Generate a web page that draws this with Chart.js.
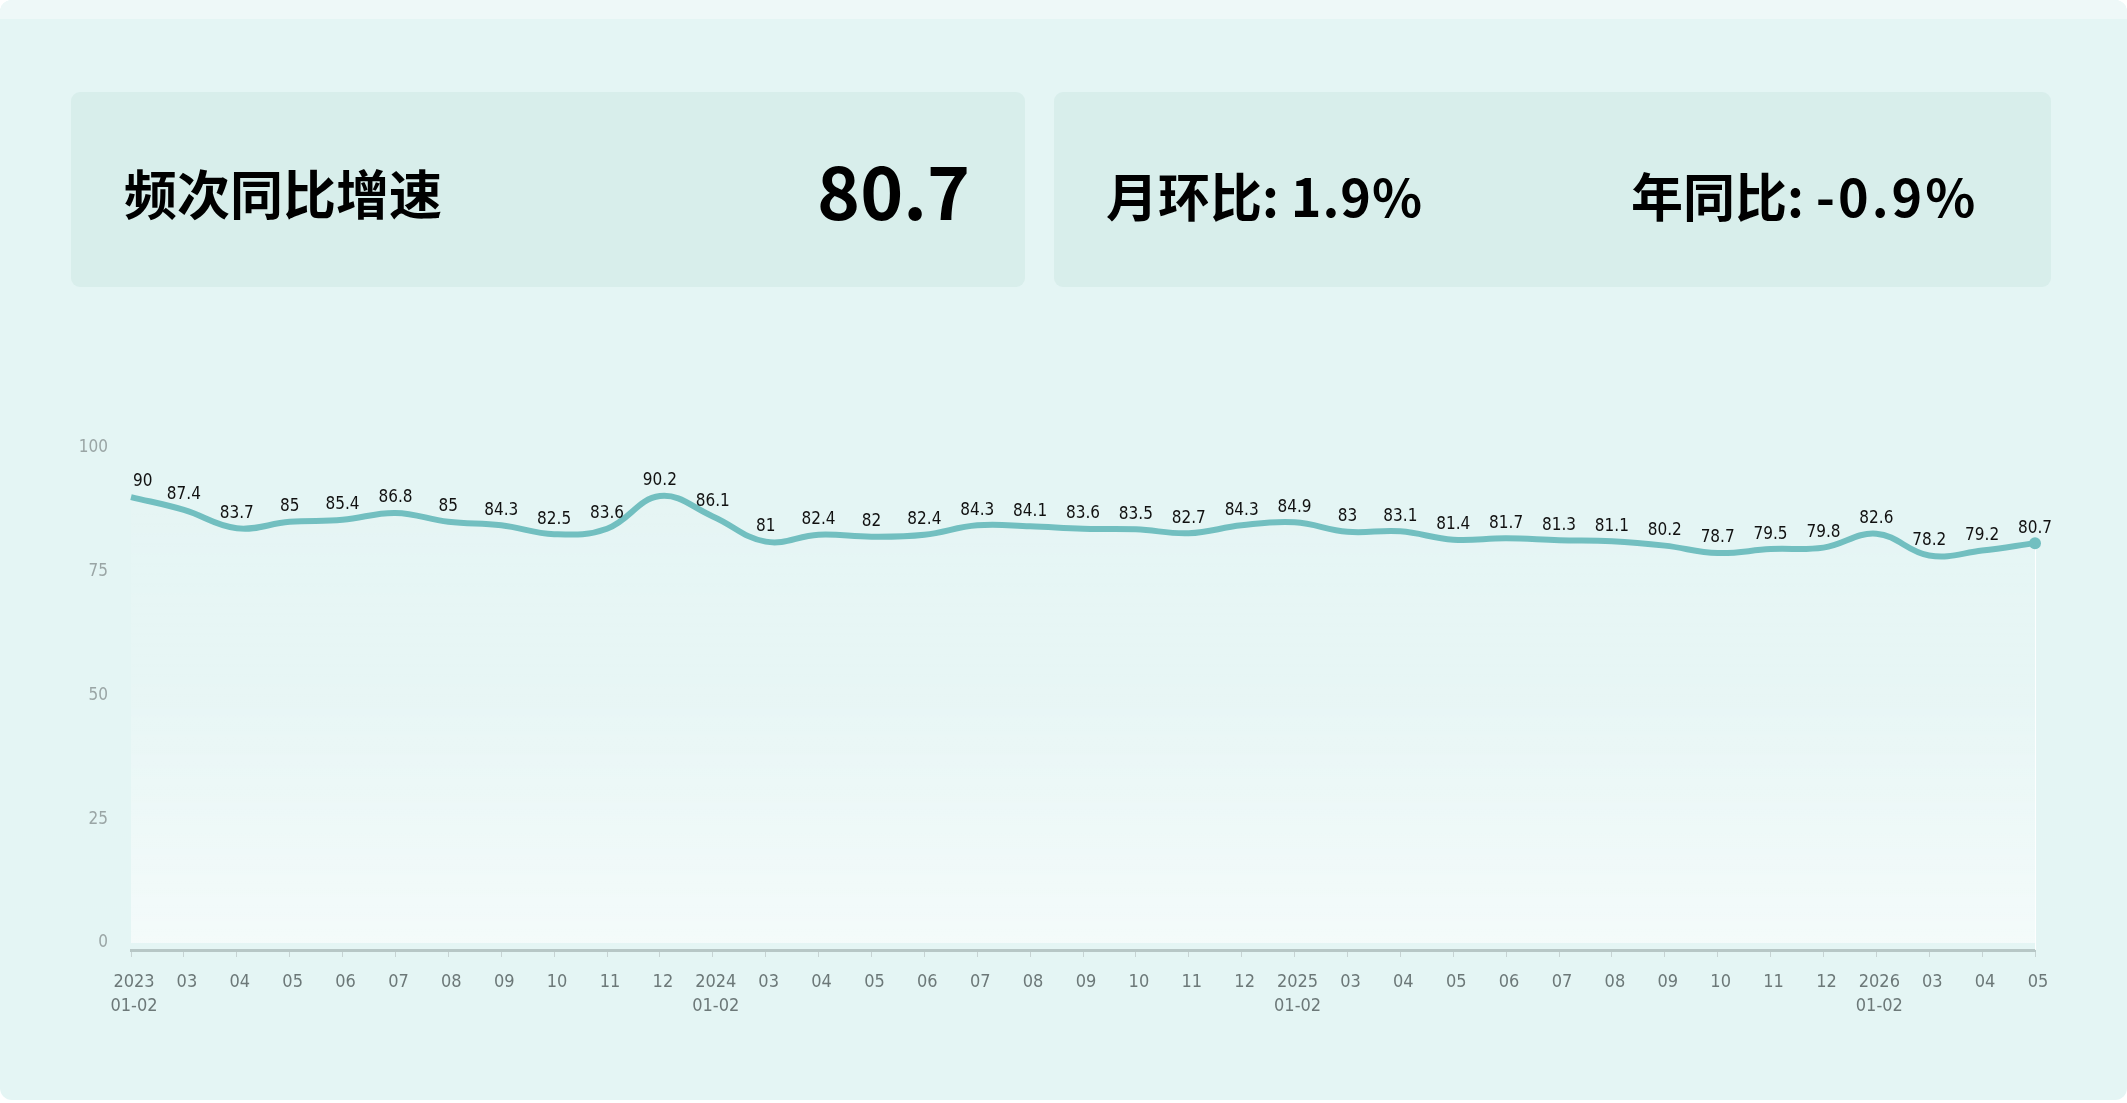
<!DOCTYPE html>
<html>
<head>
<meta charset="utf-8">
<script src="https://cdn.jsdelivr.net/npm/chart.js@4.4.1/dist/chart.umd.min.js"></script>
<style>
  html, body { margin: 0; padding: 0; background: #ffffff; }
  body { width: 2127px; height: 1103px; position: relative; overflow: hidden; }
  #card { position: absolute; left: 0; top: 0; width: 2127px; height: 1100px; background: #e4f5f4; border-radius: 12px; overflow: hidden; }
  #strip { position: absolute; left: 0; top: 0; width: 100%; height: 19px; background: #eef8f8; }
  .box { position: absolute; top: 92px; height: 195px; background: #d8eeeb; border-radius: 9px; }
  .txt { position: absolute; font-family: "Noto Sans CJK SC", "Noto Sans", sans-serif; font-weight: 700; color: #000; white-space: nowrap; line-height: 1; }
  #chartWrap { position: absolute; left: 0; top: 0; width: 2127px; height: 1103px; }
</style>
</head>
<body>
<div id="card">
  <div id="strip"></div>
  <div class="box" style="left:71px; width:954px;"></div>
  <div class="box" style="left:1054px; width:997px;"></div>
  <div class="txt" id="title" style="left:124px; top:166px; font-size:53px;">频次同比增速</div>
  <div class="txt" id="bigval" style="right:1157px; top:152px; font-size:73px;">80.7</div>
  <div class="txt" id="mom" style="left:1106px; top:169px; font-size:52px;">月环比: <span style="letter-spacing:1px">1.9%</span></div>
  <div class="txt" id="yoy" style="left:1631px; top:169px; font-size:52px;">年同比: <span style="letter-spacing:3px">-0.9%</span></div>
</div>
<div id="chartWrap"><canvas id="c" width="2127" height="1103"></canvas></div>
<script>
// ---- data ----
const categories = [
  ['2023','01-02'],'03','04','05','06','07','08','09','10','11','12',
  ['2024','01-02'],'03','04','05','06','07','08','09','10','11','12',
  ['2025','01-02'],'03','04','05','06','07','08','09','10','11','12',
  ['2026','01-02'],'03','04','05'
];
const values = [
  90, 87.4, 83.7, 85, 85.4, 86.8, 85, 84.3, 82.5, 83.6, 90.2,
  86.1, 81, 82.4, 82, 82.4, 84.3, 84.1, 83.6, 83.5, 82.7, 84.3,
  84.9, 83, 83.1, 81.4, 81.7, 81.3, 81.1, 80.2, 78.7, 79.5, 79.8,
  82.6, 78.2, 79.2, 80.7
];
const yTicks = [0, 25, 50, 75, 100];

const LINE = '#72bfc0';
const lastIdx = values.length - 1;

const labelPlugin = {
  id: 'valueLabels',
  afterDatasetsDraw(chart) {
    const ctx = chart.ctx;
    const meta = chart.getDatasetMeta(0);
    ctx.save();
    ctx.font = '17px "DejaVu Sans Condensed", "DejaVu Sans", sans-serif';
    ctx.fillStyle = '#111';
    ctx.textBaseline = 'middle';
    meta.data.forEach((pt, i) => {
      ctx.textAlign = i === 0 ? 'left' : 'center';
      ctx.fillText(String(values[i]), pt.x + (i === 0 ? 2 : 0), pt.y - 15);
    });
    ctx.restore();
  },
  beforeDatasetsDraw(chart) {
    const ctx = chart.ctx;
    const meta = chart.getDatasetMeta(0);
    const pt = meta.data[lastIdx];
    ctx.save();
    ctx.strokeStyle = 'rgba(255,255,255,0.9)';
    ctx.lineWidth = 1;
    ctx.beginPath();
    ctx.moveTo(Math.round(pt.x) + 0.5, pt.y);
    ctx.lineTo(Math.round(pt.x) + 0.5, chart.chartArea.bottom);
    ctx.stroke();
    ctx.restore();
  }
};

const ctx = document.getElementById('c').getContext('2d');
new Chart(ctx, {
  type: 'line',
  data: {
    labels: categories,
    datasets: [{
      data: values,
      borderColor: LINE,
      borderWidth: 6,
      tension: 0.4,
      fill: true,
      backgroundColor: (c) => {
        const a = c.chart.chartArea;
        if (!a) return 'rgba(255,255,255,0.2)';
        const g = c.chart.ctx.createLinearGradient(0, a.top, 0, a.bottom);
        g.addColorStop(0, 'rgba(255,255,255,0.05)');
        g.addColorStop(0.5, 'rgba(255,255,255,0.15)');
        g.addColorStop(1, 'rgba(255,255,255,0.6)');
        return g;
      },
      pointRadius: values.map((v, i) => i === lastIdx ? 6 : 0),
      pointBackgroundColor: LINE,
      pointBorderColor: LINE,
      pointBorderWidth: 0,
      pointHoverRadius: 0
    }]
  },
  options: {
    responsive: false,
    animation: false,
    events: [],
    layout: { padding: { left: 0, right: 92, top: 447.5, bottom: 53 } },
    plugins: { legend: { display: false }, tooltip: { enabled: false } },
    scales: {
      x: {
        offset: false,
        afterFit: (s) => { s.height = 100; },
        border: { display: true, color: '#b7c7c6', width: 3 },
        grid: { drawOnChartArea: false, drawTicks: true, tickLength: 7, color: '#c6d3d3', lineWidth: 1 },
        ticks: {
          autoSkip: false, maxRotation: 0, minRotation: 0, padding: 13,
          labelOffset: 3,
          color: '#6c7878',
          font: { family: '"DejaVu Sans Condensed", "DejaVu Sans", sans-serif', size: 18, lineHeight: 1.35 }
        }
      },
      y: {
        min: -1.4, max: 100,
        afterFit: (s) => { s.width = 131; },
        afterBuildTicks: (s) => { s.ticks = yTicks.map(v => ({ value: v })); },
        border: { display: false },
        grid: { display: false },
        ticks: {
          padding: 15,
          color: '#9aa5a5',
          font: { family: '"DejaVu Sans Condensed", "DejaVu Sans", sans-serif', size: 17 }
        }
      }
    }
  },
  plugins: [labelPlugin]
});
</script>
</body>
</html>
